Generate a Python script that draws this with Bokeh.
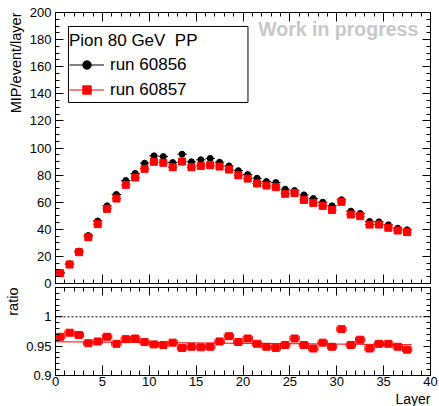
from bokeh.plotting import figure
from bokeh.models import (LinearAxis, Range1d, Span, Label, Legend, LegendItem,
                          ColumnDataSource, FixedTicker, BoxAnnotation, Title)
from bokeh.layouts import column
from bokeh.embed import file_html
from bokeh.resources import INLINE

FONT = "Liberation Sans"

# ---------------- data ----------------
layer = [0.5, 1.5, 2.5, 3.5, 4.5, 5.5, 6.5, 7.5, 8.5, 9.5,
         10.5, 11.5, 12.5, 13.5, 14.5, 15.5, 16.5, 17.5, 18.5, 19.5,
         20.5, 21.5, 22.5, 23.5, 24.5, 25.5, 26.5, 27.5, 28.5, 29.5,
         30.5, 31.5, 32.5, 33.5, 34.5, 35.5, 36.5, 37.5]
run_60856 = [7.9, 14.5, 23.9, 35.4, 46.2, 57.3, 65.7, 76.0, 81.2, 88.8,
             94.2, 93.7, 89.3, 95.4, 89.8, 91.3, 92.3, 89.5, 86.8, 83.3,
             80.4, 77.7, 75.3, 74.5, 69.6, 68.6, 65.4, 62.7, 60.0, 57.3,
             61.8, 53.4, 51.7, 45.8, 45.5, 43.3, 40.8, 39.6]
run_60857 = [7.6, 14.0, 23.1, 34.2, 43.8, 55.1, 62.7, 72.8, 78.2, 84.6,
             89.8, 89.1, 85.8, 90.0, 85.8, 86.8, 87.3, 86.3, 84.1, 79.8,
             77.4, 73.8, 72.3, 71.1, 66.2, 66.7, 61.7, 59.5, 57.3, 54.3,
             60.3, 50.9, 49.7, 43.5, 43.5, 41.1, 39.1, 37.9]
ratio = [0.966, 0.973, 0.969, 0.955, 0.958, 0.966, 0.954, 0.962, 0.963, 0.957,
         0.953, 0.952, 0.956, 0.947, 0.949, 0.948, 0.949, 0.958, 0.967, 0.957,
         0.963, 0.954, 0.949, 0.947, 0.952, 0.963, 0.952, 0.946, 0.956, 0.949,
         0.979, 0.952, 0.961, 0.946, 0.954, 0.954, 0.949, 0.944]
layer_half_width = [0.5] * 38
fit_x = [0.0, 38.0]
fit_y = [0.9575, 0.9525]

x_major = [0, 5, 10, 15, 20, 25, 30, 35, 40]
x_minor = list(range(0, 41))
y_major = [0, 20, 40, 60, 80, 100, 120, 140, 160, 180, 200]
y_minor = list(range(0, 201, 5))
r_major = [0.9, 0.95, 1.0]
r_minor = [0.9, 0.91, 0.92, 0.93, 0.94, 0.95, 0.96, 0.97, 0.98, 0.99,
           1.0, 1.01, 1.02, 1.03, 1.04, 1.05]
r_labels = {0.9: "0.9", 0.95: "0.95", 1.0: "1"}

src = ColumnDataSource(dict(
    x=layer, x0=[a - h for a, h in zip(layer, layer_half_width)],
    x1=[a + h for a, h in zip(layer, layer_half_width)],
    b=run_60856, r=run_60857, q=ratio))


def make_axis(ticks, minor, tin, tmin, labels, overrides=None, standoff=4):
    ax = LinearAxis(ticker=FixedTicker(ticks=ticks, minor_ticks=minor))
    ax.major_tick_in = tin
    ax.major_tick_out = 0
    ax.minor_tick_in = tmin
    ax.minor_tick_out = 0
    ax.axis_line_color = "black"
    ax.major_tick_line_color = "black"
    ax.minor_tick_line_color = "black"
    if labels:
        ax.major_label_text_font = FONT
        ax.major_label_text_font_size = "13px"
        ax.major_label_text_color = "black"
        ax.major_label_standoff = standoff
        if overrides:
            ax.major_label_overrides = overrides
    else:
        ax.major_label_text_color = None
        ax.major_label_text_alpha = 0
        ax.major_label_text_font_size = "1px"
        ax.major_label_standoff = 0
    return ax


def axis_title(text, standoff, size="14.5px"):
    return Title(text=text, align="right", text_font=FONT, text_font_size=size,
                 text_font_style="normal", text_color="black", standoff=standoff)


# ---------------- top plot ----------------
p1 = figure(width=439, height=292, x_range=Range1d(0, 40), y_range=Range1d(0, 200),
            output_backend="svg", toolbar_location=None,
            x_axis_location=None, y_axis_location=None,
            min_border_left=52, min_border_right=9, min_border_top=12,
            min_border_bottom=9)
p1.xgrid.visible = False
p1.ygrid.visible = False
p1.outline_line_color = "black"
p1.outline_line_width = 1
p1.background_fill_color = "white"
p1.border_fill_color = "white"

p1.add_layout(make_axis(y_major, y_minor, 8, 4, True), "left")
p1.add_layout(make_axis(y_major, y_minor, 8, 4, False), "right")
p1.add_layout(make_axis(x_major, x_minor, 9, 4, False), "below")
p1.add_layout(make_axis(x_major, x_minor, 9, 4, False), "above")
p1.add_layout(axis_title("MIP/event/layer", 5), "left")

# legend frame
p1.add_layout(BoxAnnotation(left=1.38, right=20.53, top=189.7, bottom=133.6,
                            fill_color="white", fill_alpha=1.0,
                            line_color="black", line_width=1, line_alpha=1.0))

seg_b = p1.segment(x0="x0", x1="x1", y0="b", y1="b", source=src,
                   line_color="black", line_width=1)
sc_b = p1.scatter(x="x", y="b", source=src, marker="circle", size=6,
                  fill_color="black", line_color="black")
seg_r = p1.segment(x0="x0", x1="x1", y0="r", y1="r", source=src,
                   line_color="red", line_width=1)
sc_r = p1.scatter(x="x", y="r", source=src, marker="square", size=7,
                  fill_color="red", line_color="red")

legend = Legend(items=[LegendItem(label="run 60856", renderers=[seg_b, sc_b]),
                       LegendItem(label="run 60857", renderers=[seg_r, sc_r])],
                title="Pion 80 GeV \u00a0PP", location=(14, 183))
legend.title_text_font = FONT
legend.title_text_font_size = "17px"
legend.title_text_font_style = "normal"
legend.title_text_color = "black"
legend.title_standoff = 3
legend.label_text_font = FONT
legend.label_text_font_size = "17px"
legend.label_text_color = "black"
legend.label_height = 21
legend.glyph_height = 21
legend.glyph_width = 35
legend.label_standoff = 6
legend.spacing = 4
legend.padding = 4
legend.margin = 0
legend.border_line_color = None
legend.background_fill_alpha = 0.0
p1.add_layout(legend)

wip = Label(x=38.7, y=188, text="Work in progress", text_align="right",
            text_baseline="middle", text_font=FONT, text_font_size="19.5px",
            text_font_style="bold", text_color="#c8c8c8")
p1.add_layout(wip)

# ---------------- ratio plot ----------------
p2 = figure(width=439, height=121, x_range=Range1d(0, 40), y_range=Range1d(0.9, 1.05),
            output_backend="svg", toolbar_location=None,
            x_axis_location=None, y_axis_location=None,
            min_border_left=52, min_border_right=9, min_border_top=2,
            min_border_bottom=29)
p2.margin = (-7, 0, 0, 0)
p2.xgrid.visible = False
p2.ygrid.visible = False
p2.outline_line_color = "black"
p2.outline_line_width = 1
p2.background_fill_color = "white"
p2.border_fill_color = "white"
p2.border_fill_alpha = 0.0

p2.add_layout(make_axis(r_major, r_minor, 7, 4, True, overrides=r_labels), "left")
p2.add_layout(make_axis(r_major, r_minor, 7, 4, False), "right")
p2.add_layout(make_axis(x_major, x_minor, 10, 5, True, standoff=1), "below")
p2.add_layout(make_axis(x_major, x_minor, 8, 4, False), "above")
p2.add_layout(axis_title("ratio", 5), "left")
p2.add_layout(axis_title("Layer", 0, "14px"), "below")

p2.add_layout(Span(location=1.0, dimension="width", line_color="black",
                   line_dash="2 2", line_width=1))
p2.line(x=fit_x, y=fit_y, line_color="red", line_width=1)
p2.segment(x0="x0", x1="x1", y0="q", y1="q", source=src, line_color="red", line_width=1)
p2.scatter(x="x0", y="q", source=src, marker="dash", angle=1.5708, size=5,
           line_color="red")
p2.scatter(x="x1", y="q", source=src, marker="dash", angle=1.5708, size=5,
           line_color="red")
p2.scatter(x="x", y="q", source=src, marker="square", size=7,
           fill_color="red", line_color="red")

layout = column(p1, p2, spacing=0)
open("out.html", "w").write(file_html(layout, INLINE))
